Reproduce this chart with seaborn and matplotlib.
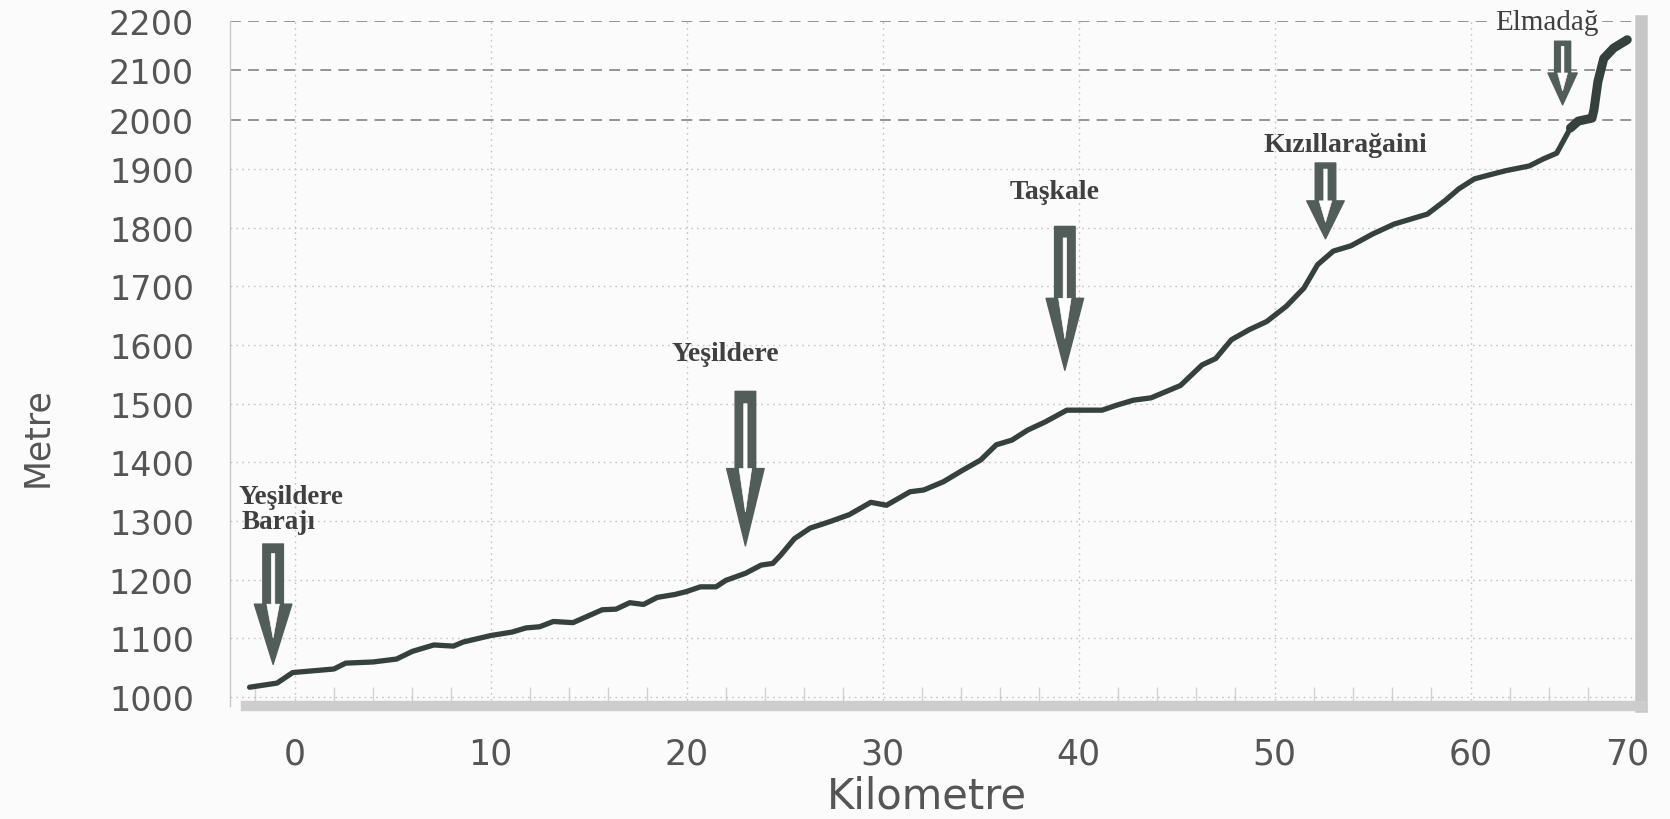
import numpy as np
import pandas as pd
import matplotlib
matplotlib.use("Agg")
import matplotlib.pyplot as plt
import seaborn as sns

# ---------------- data ----------------
km = [-2.3, -0.9, -0.1, 2.0, 2.6, 4.0, 5.2, 6.0, 7.1, 8.1, 8.6, 10.0, 11.1, 11.8,
      12.5, 13.2, 14.2, 15.7, 16.4, 17.1, 17.8, 18.5, 19.4, 20.0, 20.7, 21.5, 22.0,
      23.0, 23.8, 24.4, 24.8, 25.5, 26.3, 27.3, 28.3, 29.4, 30.2, 31.4, 32.1, 33.1,
      34.1, 35.0, 35.8, 36.6, 37.4, 38.3, 39.4, 41.2, 41.9, 42.8, 43.7, 45.2, 46.3,
      47.0, 47.8, 48.7, 49.6, 50.6, 51.5, 52.2, 53.0, 53.9, 55.0, 56.1, 57.2, 57.8,
      58.7, 59.4, 60.2, 61.1, 61.8, 63.0, 63.7, 64.4, 65.1, 65.5, 66.2, 66.3, 66.5,
      66.8, 67.3, 68.0]
elev = [1017, 1024, 1042, 1048, 1058, 1060, 1065, 1078, 1089, 1087, 1094, 1105, 1111, 1118,
        1120, 1129, 1127, 1149, 1150, 1161, 1158, 1170, 1175, 1180, 1188, 1188, 1199,
        1211, 1225, 1228, 1242, 1270, 1288, 1299, 1311, 1332, 1327, 1350, 1353, 1367,
        1387, 1404, 1430, 1438, 1455, 1469, 1489, 1489, 1497, 1506, 1510, 1531, 1566,
        1577, 1609, 1626, 1640, 1666, 1697, 1737, 1760, 1769, 1789, 1806, 1817, 1823,
        1846, 1866, 1883, 1891, 1897, 1906, 1920, 1932, 1983, 1997, 2003, 2020, 2077,
        2124, 2145, 2162]

y_ticks = [1000, 1100, 1200, 1300, 1400, 1500, 1600, 1700, 1800, 1900, 2000, 2100, 2200]
x_tick_labels = ["0", "10", "20", "30", "40", "50", "60", "70"]

# landmarks: label, arrow km, arrow tail elevation, arrow tip elevation
landmark_names = ["Yeşildere\nBarajı", "Yeşildere", "Taşkale", "Kızıllarağaini", "Elmadağ"]
landmark_km = [-1.1, 23.0, 39.3, 52.6, 64.7]
arrow_tail = [1261, 1521, 1802, 1912, 2159]
arrow_tip = [1056, 1258, 1557, 1781, 2030]

df = pd.DataFrame({"Kilometre": km, "Metre": elev})

# ---------------- style ----------------
sns.set_style("white")
plt.rcParams["font.family"] = ["DejaVu Sans"]

TXT = "#555555"
LINE = "#36403c"
ARROW = "#525c58"

fig = plt.figure(figsize=(16.7, 8.2), dpi=100, facecolor="#fbfbfb")
ax = fig.add_axes([230 / 1670, 1 - 707 / 820, (1641 - 230) / 1670, (707 - 22) / 820])
ax.set_facecolor("#fbfbfb")

# compressed upper part of the elevation axis (as in the original scan)
BREAK, RATIO = 1900.0, 0.84


def fwd(v):
    v = np.asarray(v, dtype=float)
    return np.where(v <= BREAK, v, BREAK + (v - BREAK) * RATIO)


def inv(u):
    u = np.asarray(u, dtype=float)
    return np.where(u <= BREAK, u, BREAK + (u - BREAK) / RATIO)


ax.set_yscale("function", functions=(fwd, inv))

sns.lineplot(data=df, x="Kilometre", y="Metre", ax=ax, color=LINE, lw=3.8,
             solid_capstyle="round", solid_joinstyle="round", zorder=5)
# the final climb is drawn heavier in the original
sns.lineplot(data=df[df["Kilometre"] >= 65.1], x="Kilometre", y="Metre", ax=ax,
             color=LINE, lw=6.5, solid_capstyle="round", solid_joinstyle="round", zorder=5)

ax.set_xlim(-3.3, 68.7)
ax.set_ylim(985, 2200)

# ticks
xt = list(range(0, 61, 10)) + [km[-1]]
ax.set_xticks(xt)
ax.set_xticklabels(x_tick_labels)
ax.set_yticks(y_ticks)
ax.set_yticklabels([str(t) for t in y_ticks])
ax.set_xticks(np.arange(-2, 68, 2), minor=True)
ax.tick_params(axis="y", which="major", length=0, pad=26, labelsize=24, labelcolor=TXT)
ax.tick_params(axis="x", which="major", length=0, pad=22, labelsize=25, labelcolor=TXT)
ax.tick_params(axis="x", which="minor", direction="in", length=14, width=1.0,
               color="#d2d2d2", bottom=True)

# grid
ax.grid(True, axis="both", which="major", color="#c4c4c4", lw=1.0, ls=(0, (1.2, 3)))
for gl, t in zip(ax.yaxis.get_gridlines(), y_ticks):
    if t >= 2000:
        gl.set_linestyle((0, (6, 4)))
        gl.set_color("#8c8c8c")
        gl.set_linewidth(1.3)
xg = ax.xaxis.get_gridlines()
xg[-1].set_visible(False)

# spines
ax.spines["top"].set_visible(False)
ax.spines["left"].set_color("#c8c8c8")
ax.spines["left"].set_linewidth(1.0)
ax.spines["bottom"].set_color("#cdcdcd")
ax.spines["bottom"].set_linewidth(7.5)
ax.spines["bottom"].set_bounds(-2.5, 68.7)
ax.spines["right"].set_color("#c6c6c6")
ax.spines["right"].set_linewidth(9)

# axis labels
ax.set_xlabel("Kilometre", fontsize=30, color=TXT)
ax.set_ylabel("Metre", fontsize=25, color=TXT)
ax.xaxis.set_label_coords(0.494, -0.131)
ax.xaxis.label.set_va("center")
ax.yaxis.set_label_coords(-0.137, 0.394)
ax.yaxis.label.set_va("center")

# ---------------- landmark arrows ----------------
fig.canvas.draw()
MS = 20.0  # mutation scale in points
px_per_pt = fig.dpi / 72.0
for name, k, tail, tip in zip(landmark_names, landmark_km, arrow_tail, arrow_tip):
    p1 = ax.transData.transform((k, tail))
    p2 = ax.transData.transform((k, tip))
    length_px = abs(p1[1] - p2[1])
    size = 1.0 if length_px > 70 else 0.78
    head_len = 0.5 * length_px / (MS * px_per_pt)
    ax.annotate("", xy=(k, tip), xytext=(k, tail),
                arrowprops=dict(arrowstyle=f"simple,head_length={head_len:.3f},"
                                           f"head_width={1.35 * size:.3f},tail_width={0.74 * size:.3f}",
                                fc=ARROW, ec=ARROW, lw=1.0, shrinkA=0, shrinkB=0,
                                mutation_scale=MS, joinstyle="round"),
                zorder=6)
    inner_len = 0.28 * length_px / (MS * px_per_pt)
    ax.annotate("", xy=(k, tip), xytext=(k, tail),
                arrowprops=dict(arrowstyle=f"simple,head_length={inner_len:.3f},"
                                           f"head_width={0.45 * size:.3f},tail_width={0.12 * size:.3f}",
                                fc="white", ec="white", lw=0.5,
                                shrinkA=0.08 * length_px / px_per_pt,
                                shrinkB=0.22 * length_px / px_per_pt,
                                mutation_scale=MS),
                zorder=7)

# landmark texts
serif = ["Liberation Serif", "DejaVu Serif"]
LAB = "#404040"
ax.text(-0.2, 1342, "Yeşildere", ha="center", va="center", fontsize=19.5,
        fontweight="bold", family=serif, color=LAB, zorder=8)
ax.text(-0.8, 1300, "Barajı", ha="center", va="center", fontsize=19.5,
        fontweight="bold", family=serif, color=LAB, zorder=8)
ax.text(22.0, 1586, landmark_names[1], ha="center", va="center", fontsize=20,
        fontweight="bold", family=serif, color=LAB, zorder=8)
ax.text(38.8, 1862, landmark_names[2], ha="center", va="center", fontsize=20,
        fontweight="bold", family=serif, color=LAB, zorder=8)
ax.text(53.6, 1950, landmark_names[3], ha="center", va="center", fontsize=20,
        fontweight="bold", family=serif, color=LAB, zorder=8)
ax.text(63.9, 2197, landmark_names[4], ha="center", va="center", fontsize=21,
        family=serif, color=LAB, zorder=8,
        bbox=dict(boxstyle="square,pad=0.1", fc="#fbfbfb", ec="none"))

fig.savefig("out.png", dpi=100, facecolor=fig.get_facecolor())
